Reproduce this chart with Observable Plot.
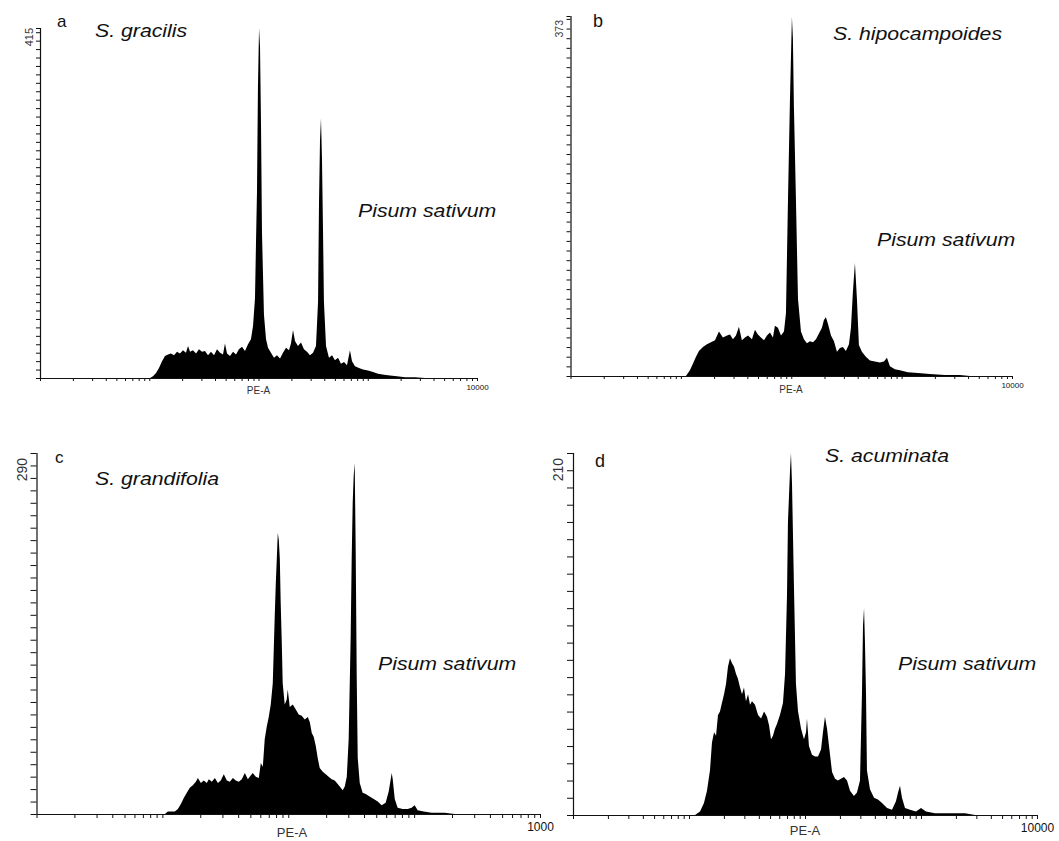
<!DOCTYPE html>
<html><head><meta charset="utf-8">
<script src="https://cdn.jsdelivr.net/npm/d3@7"></script>
<script src="https://cdn.jsdelivr.net/npm/@observablehq/plot@0.6"></script>
<style>
html,body{margin:0;padding:0;background:#fff;}
#fig{position:relative;width:1059px;height:841px;overflow:hidden;font-family:"Liberation Sans",Arial,sans-serif;background:#fff;}
</style></head><body><div id="fig"></div>
<script>
// ---------- DATA (log10 of PE-A channel, event count) ----------
const aLogPE = [1.007,1.034,1.062,1.089,1.117,1.144,1.172,1.199,1.227,1.254,1.281,1.309,1.336,1.355,1.373,1.400,1.428,1.455,1.483,1.510,1.538,1.565,1.593,1.620,1.648,1.675,1.693,1.712,1.739,1.767,1.794,1.821,1.849,1.876,1.904,1.931,1.950,1.968,1.977,1.986,1.995,2.005,2.014,2.023,2.032,2.050,2.069,2.087,2.114,2.142,2.169,2.197,2.224,2.252,2.279,2.297,2.316,2.334,2.361,2.389,2.416,2.444,2.471,2.499,2.526,2.545,2.554,2.563,2.572,2.581,2.590,2.599,2.618,2.645,2.673,2.700,2.728,2.755,2.783,2.810,2.837,2.856,2.883,2.920,2.956,3.002,3.048,3.094,3.149,3.204,3.268,3.341,3.432,3.524];
const aCount = [0,2,6,12,20,26,28,29,27,31,29,33,30,38,31,33,29,34,31,32,27,31,27,34,30,28,41,29,26,31,28,34,37,32,40,46,62,95,160,220,345,415,392,300,172,75,46,36,30,24,27,23,30,36,33,41,57,44,38,42,34,31,27,30,38,90,210,282,308,260,180,90,38,24,27,21,24,17,19,15,33,20,14,12,10,9,7,5,4,3,2,1,1,0];

const bLogPE = [1.046,1.082,1.110,1.137,1.164,1.200,1.236,1.273,1.309,1.345,1.381,1.418,1.445,1.472,1.499,1.526,1.553,1.581,1.608,1.644,1.671,1.698,1.725,1.753,1.780,1.807,1.834,1.852,1.879,1.907,1.934,1.952,1.970,1.988,2.006,2.015,2.024,2.043,2.061,2.088,2.115,2.142,2.169,2.197,2.224,2.251,2.278,2.296,2.314,2.333,2.360,2.387,2.414,2.441,2.468,2.495,2.523,2.541,2.559,2.577,2.595,2.613,2.640,2.676,2.713,2.758,2.803,2.840,2.867,2.894,2.939,2.984,3.057,3.148,3.256,3.392,3.528,3.619];
const bCount = [0,6,13,20,26,30,33,35,37,46,40,42,43,38,42,51,37,40,42,38,48,43,40,37,42,45,40,52,50,42,46,65,180,285,372,350,280,180,80,46,38,34,36,35,38,44,50,58,61,54,42,36,25,29,30,26,33,50,88,117,80,32,25,20,16,15,14,15,19,10,7,6,4,3,2,1,1,0];

const cLogPE = [1.020,1.044,1.099,1.123,1.147,1.171,1.194,1.218,1.242,1.266,1.282,1.306,1.329,1.353,1.369,1.393,1.417,1.441,1.464,1.488,1.512,1.536,1.560,1.583,1.607,1.631,1.655,1.679,1.702,1.718,1.742,1.766,1.782,1.798,1.813,1.829,1.845,1.861,1.877,1.893,1.901,1.909,1.917,1.925,1.933,1.940,1.948,1.956,1.972,1.988,1.996,2.012,2.036,2.060,2.083,2.107,2.131,2.155,2.171,2.187,2.202,2.218,2.234,2.250,2.274,2.298,2.321,2.345,2.369,2.393,2.417,2.433,2.449,2.465,2.480,2.496,2.504,2.512,2.520,2.528,2.536,2.544,2.552,2.568,2.591,2.615,2.647,2.679,2.711,2.742,2.774,2.798,2.814,2.822,2.830,2.846,2.869,2.909,2.949,2.980,3.004,3.028,3.076,3.139,3.242,3.322];
const cCount = [0,2,2,4,8,13,17,21,23,26,29,25,27,25,28,26,29,25,27,32,27,26,29,27,26,28,33,28,31,33,30,29,41,38,60,70,78,88,105,160,185,205,226,220,205,170,140,105,88,92,100,86,88,84,80,79,76,78,74,65,62,55,45,37,34,32,30,28,27,24,21,19,22,30,60,143,205,250,272,282,210,110,45,25,17,16,14,12,10,7,9,18,28,33,28,12,5,4,4,5,7,3,2,1,1,0];

const dLogPE = [1.052,1.095,1.129,1.155,1.181,1.198,1.216,1.233,1.250,1.267,1.284,1.302,1.319,1.336,1.353,1.371,1.388,1.405,1.422,1.440,1.457,1.474,1.491,1.509,1.526,1.543,1.569,1.595,1.621,1.647,1.672,1.690,1.707,1.724,1.741,1.759,1.784,1.810,1.828,1.845,1.853,1.871,1.879,1.888,1.905,1.922,1.940,1.966,1.991,2.009,2.017,2.034,2.060,2.086,2.112,2.138,2.155,2.172,2.190,2.207,2.233,2.259,2.284,2.310,2.336,2.362,2.388,2.422,2.448,2.474,2.491,2.500,2.509,2.517,2.526,2.534,2.560,2.595,2.629,2.664,2.707,2.750,2.784,2.802,2.819,2.836,2.862,2.905,2.957,3.000,3.043,3.121,3.250,3.379,3.466];
const dCount = [0,2,7,14,26,42,48,46,58,60,65,70,76,86,91,88,86,82,79,74,70,74,66,70,64,66,64,58,56,60,57,52,44,46,50,53,58,65,82,128,170,200,210,192,132,76,60,50,44,48,56,40,35,34,34,38,48,57,50,40,25,21,20,21,22,20,14,11,13,20,70,110,120,100,70,26,15,10,9,7,4,3,8,13,17,10,4,3,2,4,2,1,1,1,0];

const panelLetters = ["a", "b", "c", "d"];
const speciesNames = ["S. gracilis", "S. hipocampoides", "S. grandifolia", "S. acuminata"];
const referenceName = "Pisum sativum";
const yMaxValues = [415, 373, 290, 210];
const xEndLabels = ["10000", "10000", "1000", "10000"];
const xAxisLabel = "PE-A";
const xTicks = [1,2,3,4,5,6,7,8,9,10,20,30,40,50,60,70,80,90,100,200,300,400,500,600,700,800,900,1000,2000,3000,4000,5000,6000,7000,8000,9000,10000];

const logSeries = [aLogPE, bLogPE, cLogPE, dLogPE];
const countSeries = [aCount, bCount, cCount, dCount];

// ---------- LAYOUT ----------
const layout = [
  {left:0,   top:0,   w:530, h:410, mL:40,   mR:53, mT:28, mB:32, yTick:4, xTick:3, xPad:3, endFont:8,
   letter:{x:57,y:27,s:17}, species:{x:95,y:37}, ref:{x:358,y:217}, pe:{x:258.5,y:394,s:10}, ymax:{x:33,y:28,s:11}},
  {left:530, top:0,   w:529, h:410, mL:40.5, mR:47, mT:16, mB:34, yTick:4, xTick:3, xPad:3, endFont:8,
   letter:{x:593,y:27,s:18}, species:{x:833,y:40}, ref:{x:877,y:246}, pe:{x:791,y:393,s:10}, ymax:{x:563,y:20,s:10.5}},
  {left:0,   top:410, w:560, h:431, mL:36.5, mR:20, mT:43, mB:27, yTick:6, xTick:4, xPad:4, endFont:12,
   letter:{x:55,y:463,s:17}, species:{x:95,y:485}, ref:{x:378,y:670}, pe:{x:292,y:837,s:13}, ymax:{x:27,y:458,s:14}},
  {left:530, top:410, w:529, h:431, mL:43,   mR:22, mT:43, mB:26, yTick:6, xTick:4, xPad:4, endFont:12,
   letter:{x:595,y:467,s:18}, species:{x:825,y:462}, ref:{x:898,y:670}, pe:{x:805,y:835,s:13}, ymax:{x:563,y:458,s:14}}
];

const fig = document.getElementById("fig");
const FONT = "Liberation Sans, Arial, sans-serif";

layout.forEach((L, i) => {
  const data = logSeries[i].map((e, j) => ({pe: 10 ** e, count: countSeries[i][j]}));
  const yMax = yMaxValues[i];
  const yTicks = d3.range(0, yMax, 10).concat([yMax]);
  const plot = Plot.plot({
    width: L.w, height: L.h,
    marginLeft: L.mL, marginRight: L.mR, marginTop: L.mT, marginBottom: L.mB,
    style: {background: "transparent", maxWidth: "none", overflow: "visible", fontFamily: FONT, color: "#111"},
    x: {type: "log", domain: [1, 10000]},
    y: {domain: [0, yMax]},
    marks: [
      Plot.areaY(data, {x: "pe", y: "count", fill: "black", curve: "linear"}),
      Plot.ruleY([0], {stroke: "#111", strokeWidth: 1.2}),
      Plot.ruleX([1], {stroke: "#111", strokeWidth: 1.2}),
      Plot.axisX({ticks: xTicks, tickSize: L.xTick, tickPadding: L.xPad, label: null,
        tickFormat: d => d === 10000 ? xEndLabels[i] : "", fontSize: L.endFont, stroke: "#111"}),
      Plot.axisY({ticks: yTicks, tickSize: L.yTick, label: null, tickFormat: () => "", stroke: "#111"})
    ]
  });
  plot.style.position = "absolute";
  plot.style.left = L.left + "px";
  plot.style.top = L.top + "px";
  fig.appendChild(plot);
});

// ---------- TEXT OVERLAY ----------
const ov = d3.select(fig).append("svg")
  .attr("width", 1059).attr("height", 841)
  .style("position", "absolute").style("left", "0px").style("top", "0px")
  .style("pointer-events", "none")
  .attr("font-family", FONT).attr("fill", "#111");

layout.forEach((L, i) => {
  ov.append("text").attr("x", L.letter.x).attr("y", L.letter.y)
    .attr("font-size", L.letter.s).text(panelLetters[i]);
  ov.append("text").attr("transform", `translate(${L.species.x},${L.species.y}) scale(1.12,1)`)
    .attr("font-size", 19).attr("font-style", "italic").text(speciesNames[i]);
  ov.append("text").attr("transform", `translate(${L.ref.x},${L.ref.y}) scale(1.12,1)`)
    .attr("font-size", 19).attr("font-style", "italic").text(referenceName);
  ov.append("text").attr("x", L.pe.x).attr("y", L.pe.y).attr("text-anchor", "middle")
    .attr("font-size", L.pe.s).attr("fill", "#333").text(xAxisLabel);
  ov.append("text").attr("transform", `translate(${L.ymax.x},${L.ymax.y}) rotate(-90)`)
    .attr("text-anchor", "end").attr("font-size", L.ymax.s).attr("fill", "#333").text(String(yMaxValues[i]));
});
</script>
</body></html>
